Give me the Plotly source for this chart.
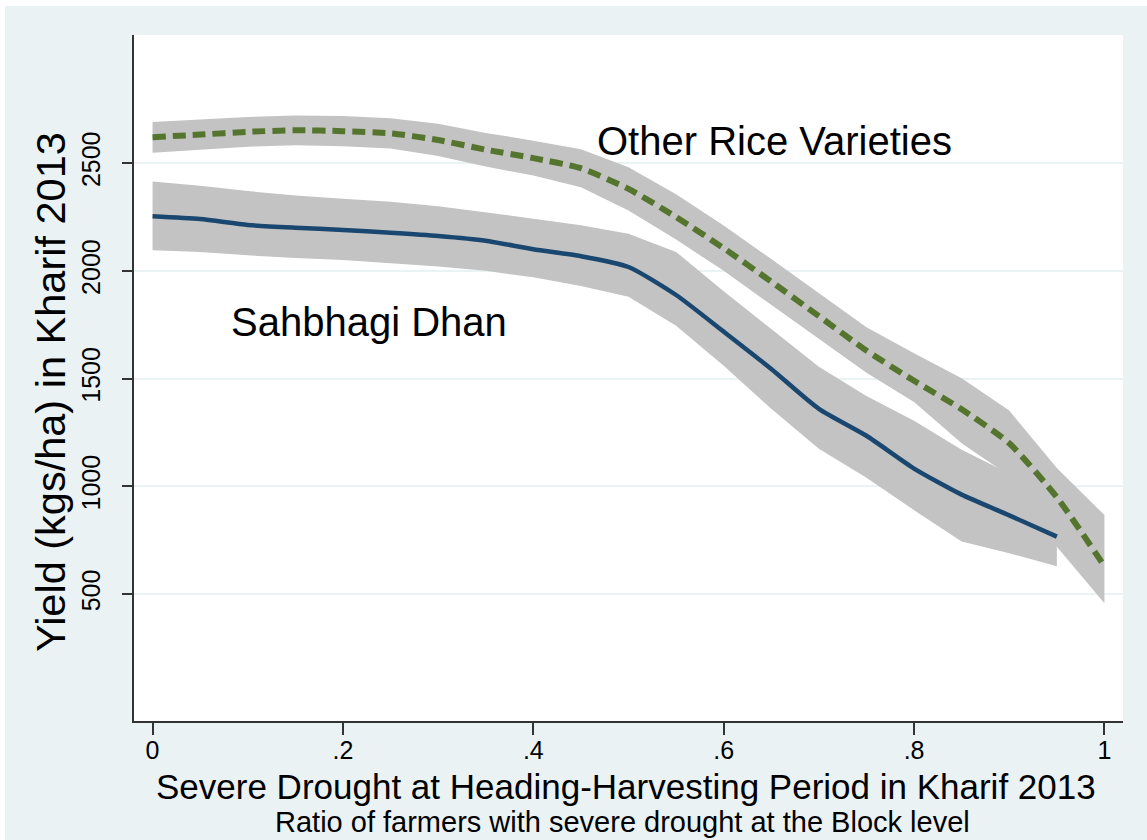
import plotly.graph_objects as go

# ---- data ----
x_sd = [0, .05, .1, .15, .2, .25, .3, .35, .4, .45, .5, .55, .6, .65, .7, .75, .8, .85, .9, .95]
sd_fit = [2253, 2240, 2213, 2200, 2190, 2177, 2162, 2140, 2100, 2068, 2018, 1888, 1718, 1545, 1360, 1235, 1083, 962, 866, 767]
sd_hi = [2415, 2395, 2370, 2350, 2335, 2320, 2300, 2272, 2242, 2212, 2172, 2088, 1905, 1730, 1555, 1420, 1305, 1170, 1060, 960]
sd_lo = [2095, 2088, 2072, 2060, 2050, 2036, 2020, 2000, 1970, 1930, 1880, 1745, 1560, 1360, 1175, 1040, 890, 745, 690, 630]

x_or = [0, .05, .1, .15, .2, .25, .3, .35, .4, .45, .5, .55, .6, .65, .7, .75, .8, .85, .9, .95, 1.0]
or_fit = [2620, 2632, 2645, 2652, 2648, 2638, 2607, 2562, 2523, 2476, 2380, 2250, 2105, 1950, 1790, 1630, 1490, 1358, 1200, 950, 630]
or_hi = [2690, 2702, 2714, 2721, 2718, 2708, 2682, 2640, 2604, 2564, 2480, 2355, 2210, 2055, 1895, 1738, 1618, 1502, 1352, 1085, 867]
or_lo = [2548, 2562, 2576, 2583, 2578, 2568, 2533, 2484, 2442, 2388, 2280, 2145, 2000, 1845, 1685, 1527, 1392, 1200, 1050, 720, 458]

x_ticks = [0, .2, .4, .6, .8, 1]
x_ticktext = ["0", ".2", ".4", ".6", ".8", "1"]
y_ticks = [500, 1000, 1500, 2000, 2500]

BG = "#EAF2F3"
BAND = "#C3C3C3"
NAVY = "#1A476F"
GREEN = "#55752F"
FONT = "Liberation Sans, Arial, sans-serif"

fig = go.Figure()

fig.add_trace(go.Scatter(x=x_sd + x_sd[::-1], y=sd_hi + sd_lo[::-1], fill="toself",
                         fillcolor=BAND, line=dict(width=0), mode="lines",
                         hoverinfo="skip", showlegend=False))
fig.add_trace(go.Scatter(x=x_or + x_or[::-1], y=or_hi + or_lo[::-1], fill="toself",
                         fillcolor=BAND, line=dict(width=0), mode="lines",
                         hoverinfo="skip", showlegend=False))
fig.add_trace(go.Scatter(x=x_sd, y=sd_fit, mode="lines",
                         line=dict(color=NAVY, width=4.5, shape="spline", smoothing=0.6),
                         name="Sahbhagi Dhan", showlegend=False))
fig.add_trace(go.Scatter(x=x_or, y=or_fit, mode="lines",
                         line=dict(color=GREEN, width=6, dash="13px,7px", shape="spline", smoothing=0.6),
                         name="Other Rice Varieties", showlegend=False))

# page offset of the figure (screen px) and figure size
OX, OY = 5, 6
W, H = 1147 - OX, 840 - OY
# plot area in screen px: left 134, right 1123, top 35, bottom 721
L, R, T, B = 134 - OX, W - (1123 - OX), 35 - OY, H - (721 - OY)
pw, ph = W - L - R, H - T - B


def xp(px):
    return (px - OX - L) / pw


def yp(py):
    return (H - B - (py - OY)) / ph


fig.update_layout(
    width=W, height=H,
    margin=dict(l=L, r=R, t=T, b=B, autoexpand=False),
    paper_bgcolor=BG, plot_bgcolor="white",
    font=dict(family=FONT, color="black"),
    xaxis=dict(range=[-0.0195, 1.0195], tickvals=x_ticks, ticktext=x_ticktext,
               showgrid=False, zeroline=False, showline=True, linecolor="#333333", linewidth=1.5,
               ticks="outside", ticklen=12, tickwidth=1.5, tickcolor="#333333",
               tickfont=dict(size=25, color="black"), automargin=False, ticklabelstandoff=-6),
    yaxis=dict(range=[-88, 3094], tickvals=y_ticks, tickangle=-90,
               showgrid=True, gridcolor=BG, gridwidth=2, zeroline=False,
               showline=True, linecolor="#333333", linewidth=1.5,
               ticks="outside", ticklen=10, tickwidth=1.5, tickcolor="#333333",
               tickfont=dict(size=25, color="black"), automargin=False, ticklabelstandoff=12),
    annotations=[
        dict(text="Other Rice Varieties", xref="paper", yref="paper", x=xp(774), y=yp(141),
             showarrow=False, font=dict(size=40), xanchor="center", yanchor="middle"),
        dict(text="Sahbhagi Dhan", xref="paper", yref="paper", x=xp(369), y=yp(322),
             showarrow=False, font=dict(size=40), xanchor="center", yanchor="middle"),
        dict(text="Severe Drought at Heading-Harvesting Period in Kharif 2013", xref="paper", yref="paper",
             x=xp(626), y=yp(786), showarrow=False, font=dict(size=35), xanchor="center", yanchor="middle"),
        dict(text="Ratio of farmers with severe drought at the Block level", xref="paper", yref="paper",
             x=xp(622), y=yp(822), showarrow=False, font=dict(size=29), xanchor="center", yanchor="middle"),
        dict(text="Yield (kgs/ha) in Kharif 2013", xref="paper", yref="paper",
             x=xp(50), y=yp(392), showarrow=False, font=dict(size=41.5), textangle=-90,
             xanchor="center", yanchor="middle"),
    ],
)

fig.write_html("out.html", post_script="document.body.style.margin='%dpx 0 0 %dpx';" % (OY, OX))
